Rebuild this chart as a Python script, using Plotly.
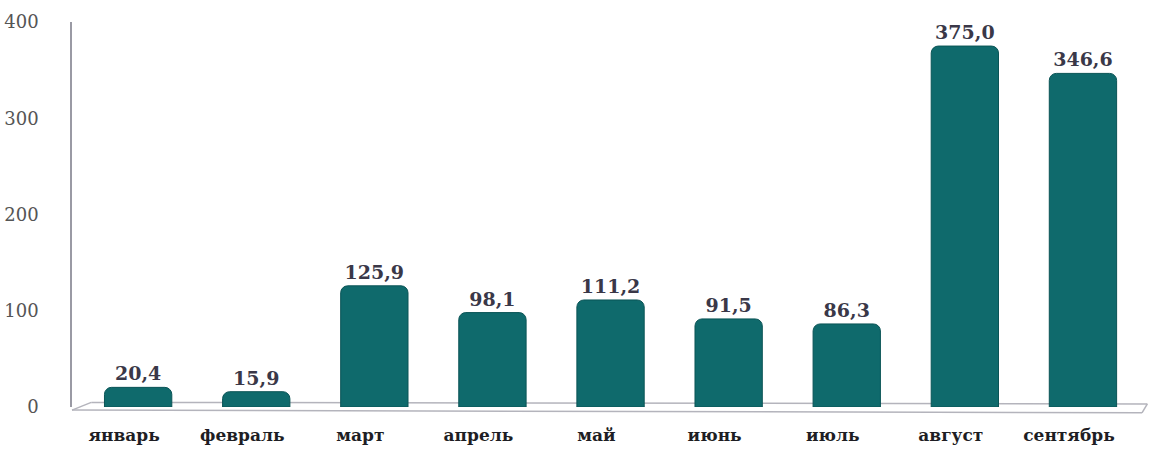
import plotly.graph_objects as go

categories = ["январь", "февраль", "март", "апрель", "май", "июнь", "июль", "август", "сентябрь"]
values = [20.4, 15.9, 125.9, 98.1, 111.2, 91.5, 86.3, 375.0, 346.6]
y_ticks = [0, 100, 200, 300, 400]

labels = [f"{v:.1f}".replace(".", ",") for v in values]

fig = go.Figure()
fig.add_trace(go.Bar(
    x=categories, y=values, text=labels, textposition="outside",
    width=0.57, cliponaxis=False,
    marker=dict(color="#0f6a6c", line=dict(color="#0a5456", width=1), cornerradius=7),
    textfont=dict(family="DejaVu Serif", size=19, color="#3a3848", weight="bold"),
))

floor_col = "#b4b4bc"
fig.update_layout(
    width=1151, height=449,
    margin=dict(l=72, r=9, t=22, b=42, autoexpand=False),
    paper_bgcolor="white", plot_bgcolor="white",
    showlegend=False,
    xaxis=dict(range=[-0.56, 8.5], showline=False, showgrid=False, zeroline=False,
               ticks="", ticklabelshift=-14, ticklabelstandoff=16, automargin=False,
               tickfont=dict(family="DejaVu Serif", size=17, color="#1e1e24", weight="bold")),
    yaxis=dict(range=[0, 400], tickvals=y_ticks, showgrid=False, zeroline=False,
               showline=True, linecolor="#9a9aa4", linewidth=1.5, ticks="",
               ticklabelstandoff=28, automargin=False,
               tickfont=dict(family="DejaVu Serif", size=18, color="#555")),
    shapes=[
        dict(type="line", xref="paper", yref="paper", layer="below", x0=0, y0=-0.008, x1=1.0, y1=-0.015,
             line=dict(color=floor_col, width=1.5)),
        dict(type="line", xref="paper", yref="paper", layer="below", x0=0, y0=-0.008, x1=0.018, y1=0.012,
             line=dict(color=floor_col, width=1.5)),
        dict(type="line", xref="paper", yref="paper", layer="below", x0=0.018, y0=0.012, x1=1.005, y1=0.008,
             line=dict(color=floor_col, width=1.5)),
        dict(type="line", xref="paper", yref="paper", layer="below", x0=1.0, y0=-0.015, x1=1.005, y1=0.008,
             line=dict(color=floor_col, width=1.5)),
    ],
)

fig.write_html("out.html", config={"displayModeBar": False},
               post_script="document.body.style.margin='0';")
